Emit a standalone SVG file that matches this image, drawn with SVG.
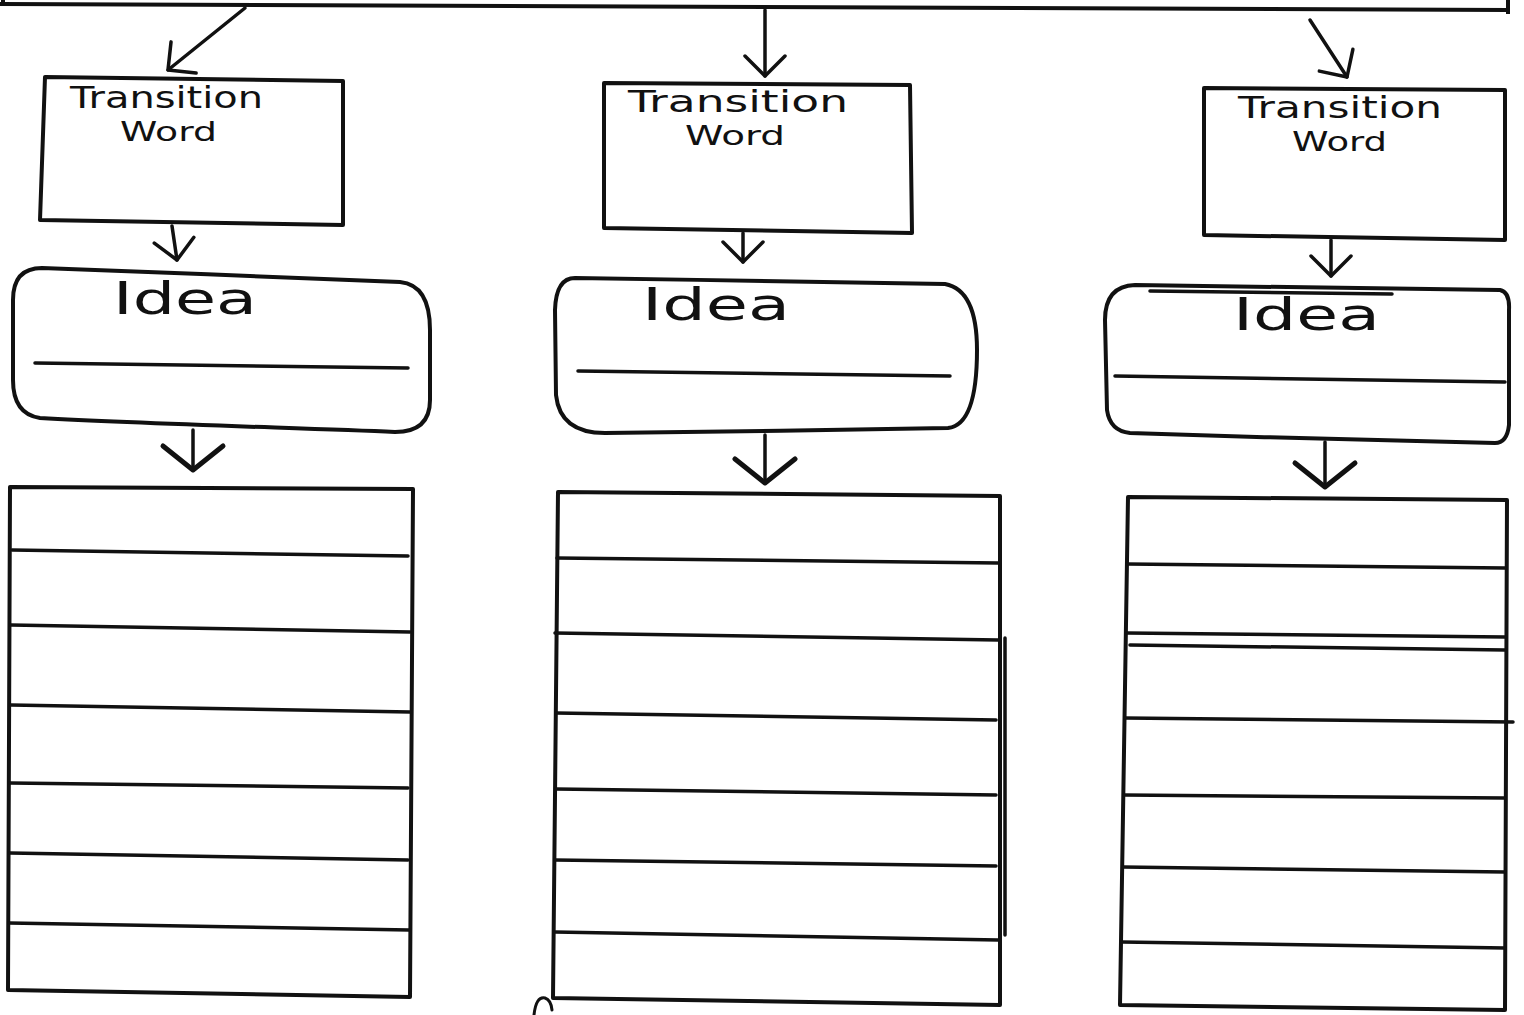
<svg xmlns="http://www.w3.org/2000/svg" width="1524" height="1015" viewBox="0 0 1524 1015">
<style>
.ln{fill:none;stroke:#111;stroke-width:3.5;stroke-linecap:round;stroke-linejoin:round}
.bx{fill:none;stroke:#111;stroke-width:4;stroke-linejoin:round}
.tw{font-family:"DejaVu Sans","Liberation Sans",sans-serif;font-size:30px;fill:#111}
.wd{font-family:"DejaVu Sans","Liberation Sans",sans-serif;font-size:26px;fill:#111}
.id{font-family:"DejaVu Sans","Liberation Sans",sans-serif;font-size:44px;fill:#111}
</style>
<defs>
<marker id="ah" markerUnits="userSpaceOnUse" markerWidth="40" markerHeight="50" refX="20" refY="20" orient="auto" overflow="visible">
<path d="M0,0 L20,20 L0,40" fill="none" stroke="#111" stroke-width="3.5" stroke-linecap="round" stroke-linejoin="round"/>
</marker>
<marker id="ahb" markerUnits="userSpaceOnUse" markerWidth="40" markerHeight="70" refX="24" refY="30" orient="auto" overflow="visible">
<path d="M0,0 L24,30 L0,60" fill="none" stroke="#111" stroke-width="5" stroke-linecap="round" stroke-linejoin="round"/>
</marker>
</defs>
<rect width="1524" height="1015" fill="#fff"/>

<g id="top-frame">
<path class="bx" d="M0,4 L1508,10 M1508,0 L1508,14 M3,0 L3,6"/>
</g>

<g id="connectors">
<path class="ln" d="M245,8 L168,70" marker-end="url(#ah)"/>
<path class="ln" d="M765,10 L765,76" marker-end="url(#ah)"/>
<path class="ln" d="M1310,20 L1347,77" marker-end="url(#ah)"/>
<path class="ln" d="M172,226 L177,260" marker-end="url(#ah)"/>
<path class="ln" d="M743,233 L743,262" marker-end="url(#ah)"/>
<path class="ln" d="M1331,240 L1331,276" marker-end="url(#ah)"/>
<path class="ln" d="M193,430 L193,470" marker-end="url(#ahb)"/>
<path class="ln" d="M765,435 L765,483" marker-end="url(#ahb)"/>
<path class="ln" d="M1325,442 L1325,487" marker-end="url(#ahb)"/>
</g>

<g id="transition-1">
<path class="bx" d="M45,77 L343,81 L343,225 L40,220 Z"/>
<text class="tw" x="70" y="108" textLength="193" lengthAdjust="spacingAndGlyphs">Transition</text>
<text class="wd" x="120" y="141" textLength="97" lengthAdjust="spacingAndGlyphs">Word</text>
</g>
<g id="transition-2">
<path class="bx" d="M604,83 L910,85 L912,233 L604,228 Z"/>
<text class="tw" x="628" y="112" textLength="220" lengthAdjust="spacingAndGlyphs">Transition</text>
<text class="wd" x="685" y="145" textLength="100" lengthAdjust="spacingAndGlyphs">Word</text>
</g>
<g id="transition-3">
<path class="bx" d="M1204,88 L1505,90 L1505,240 L1204,235 Z"/>
<text class="tw" x="1238" y="118" textLength="204" lengthAdjust="spacingAndGlyphs">Transition</text>
<text class="wd" x="1292" y="151" textLength="95" lengthAdjust="spacingAndGlyphs">Word</text>
</g>

<g id="idea-1">
<path class="bx" d="M42,268 C150,272 300,278 400,282 Q430,285 430,330 L430,400 Q430,432 395,432 C300,428 150,424 40,418 Q13,414 13,380 L13,300 Q13,268 42,268 Z"/>
<text class="id" x="113" y="314" textLength="144" lengthAdjust="spacingAndGlyphs">Idea</text>
<path class="ln" d="M35,363 L408,368"/>
</g>
<g id="idea-2">
<path class="bx" d="M575,278 C700,280 850,282 945,284 Q977,290 977,350 Q977,425 948,428 C850,430 700,432 605,433 Q560,433 556,395 L555,310 Q556,278 575,278 Z"/>
<text class="id" x="642" y="320" textLength="148" lengthAdjust="spacingAndGlyphs">Idea</text>
<path class="ln" d="M578,371 L950,376"/>
</g>
<g id="idea-3">
<path class="bx" d="M1135,285 L1500,290 Q1510,292 1509,310 L1509,425 Q1507,443 1495,443 C1400,441 1250,437 1130,433 Q1110,431 1107,410 L1105,320 Q1105,286 1135,285 Z"/>
<path class="ln" d="M1150,291 L1392,294"/>
<text class="id" x="1233" y="330" textLength="147" lengthAdjust="spacingAndGlyphs">Idea</text>
<path class="ln" d="M1115,376 L1505,382"/>
</g>

<g id="lines-1">
<path class="bx" d="M10,487 L413,489 L410,997 L8,990 Z"/>
<path class="ln" d="M12,550 L408,556 M11,625 L410,632 M11,705 L410,712 M10,783 L408,788 M10,853 L408,860 M9,923 L409,930"/>
</g>
<g id="lines-2">
<path class="bx" d="M558,492 L1000,496 L1000,1005 L553,998 Z"/>
<path class="ln" d="M557,558 L998,563 M555,633 L998,640 M556,713 L996,720 M556,789 L996,795 M555,860 L996,866 M555,932 L998,940 M1005,638 L1005,935"/>
</g>
<g id="lines-3">
<path class="bx" d="M1128,497 L1507,500 L1505,1010 L1120,1005 Z"/>
<path class="ln" d="M1127,564 L1505,568 M1127,633 L1505,637 M1130,645 L1505,650 M1125,718 L1513,722 M1124,795 L1505,798 M1123,867 L1505,872 M1122,942 L1505,948"/>
</g>

<g id="bottom-fragment">
<path class="ln" d="M534,1015 Q536,996 545,998 Q551,1000 552,1010" style="stroke-width:3"/>
</g>
</svg>
